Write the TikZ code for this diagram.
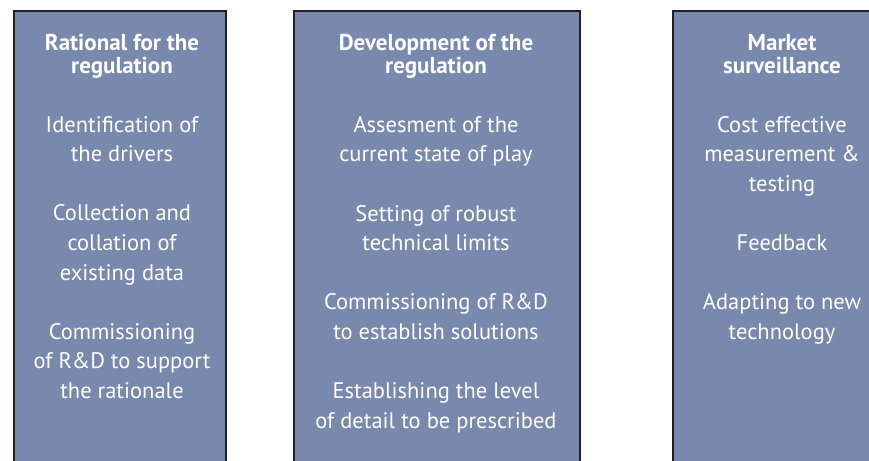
\documentclass[tikz,border=0pt]{standalone}
\usepackage{fontspec}
\setmainfont{PT Sans}
\usetikzlibrary{positioning}
\definecolor{panelblue}{RGB}{120,137,173}
\definecolor{paneledge}{RGB}{35,31,32}
\tikzset{
  panel/.style={draw=paneledge, line width=2pt, fill=panelblue, anchor=north west, inner sep=0pt, minimum height=480pt},
  paneltitle/.style={text=white, font=\bfseries\fontsize{23}{23}\selectfont, align=center, anchor=north, inner sep=0pt},
  panelbody/.style={text=white, font=\fontsize{22.5}{29.6}\selectfont, align=center, anchor=north, inner sep=0pt},
}

\begin{document}
\begin{tikzpicture}[x=1pt,y=1pt]
	\useasboundingbox (0,0) rectangle (869,-460);
	\clip (0,0) rectangle (869,-460);
	% panels
	\node[name=rat, panel, minimum width=212pt] at (13,-10) {};
	\node[name=dev, panel, minimum width=286pt] at (293,-10) {};
	\node[name=mkt, panel, minimum width=220pt] at (672,-10) {};
	% titles
	\node[name=rat title, paneltitle] at (122,-34) {Rational for the\\regulation};
	\node[name=dev title, paneltitle] at (436,-34) {Development of the\\regulation};
	\node[name=mkt title, paneltitle] at (782,-34) {Market\\surveillance};
	% contents
	\node[name=rat body, panelbody] at (122,-116) {Identification of\\the drivers\\[29.6pt]
		Collection and\\collation of\\existing data\\[29.6pt]
		Commissioning\\of R\&D to support\\the rationale};
	\node[name=dev body, panelbody] at (436,-116) {Assesment of the\\current state of play\\[29.6pt]
		Setting of robust\\technical limits\\[29.6pt]
		Commissioning of R\&D\\to establish solutions\\[29.6pt]
		Establishing the level\\of detail to be prescribed};
	\node[name=mkt body, panelbody] at (782,-116) {Cost effective\\measurement \&\\testing\\[29.6pt]
		Feedback\\[29.6pt]
		Adapting to new\\technology};
\end{tikzpicture}
\end{document}
